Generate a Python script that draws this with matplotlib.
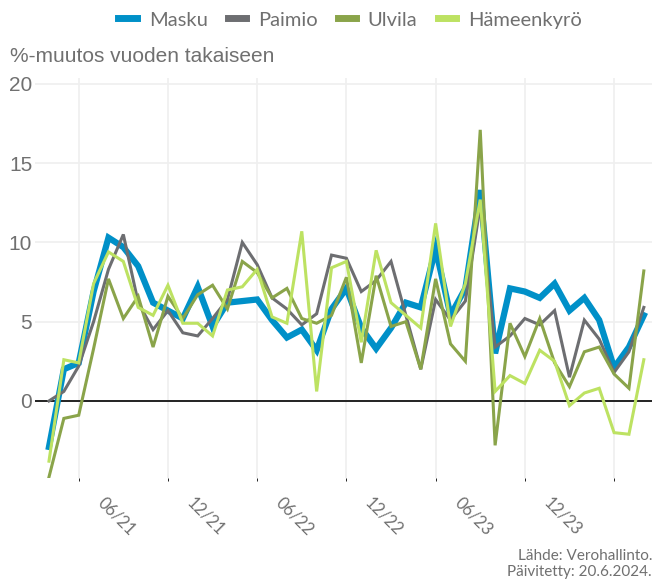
import pandas as pd
import matplotlib.pyplot as plt
from matplotlib.transforms import ScaledTranslation

# Monthly data, Jan 2021 - May 2024
months = pd.date_range('2021-01-01', periods=41, freq='MS').strftime('%m/%y').tolist()

masku = [-2.9, 2.0, 2.4, 6.9, 10.3, 9.7, 8.5, 6.2, 5.7, 5.2, 7.2, 4.7, 6.2, 6.3, 6.4,
         5.1, 4.0, 4.5, 3.2, 5.8, 7.1, 4.6, 3.3, 4.6, 6.2, 5.9, 9.6, 5.4, 7.1, 13.3,
         3.0, 7.1, 6.9, 6.5, 7.4, 5.7, 6.5, 5.1, 2.1, 3.4, 5.4]
paimio = [0.0, 0.6, 2.2, 5.0, 8.3, 10.5, 6.2, 4.5, 5.7, 4.3, 4.1, 5.2, 6.4, 10.0, 8.6,
          6.5, 5.8, 4.8, 5.5, 9.2, 9.0, 6.9, 7.6, 8.8, 5.4, 2.0, 6.4, 5.1, 6.3, 12.3,
          3.4, 4.1, 5.2, 4.8, 5.7, 1.5, 5.1, 3.9, 1.8, 3.1, 5.9]
ulvila = [-4.8, -1.1, -0.9, 3.3, 7.7, 5.2, 6.6, 3.4, 6.6, 5.2, 6.7, 7.3, 5.8, 8.8, 8.1,
          6.5, 7.1, 5.2, 4.9, 5.4, 7.8, 2.4, 7.9, 4.7, 5.0, 2.0, 7.7, 3.6, 2.5, 17.1,
          -2.8, 4.9, 2.8, 5.2, 2.4, 0.9, 3.1, 3.4, 1.7, 0.8, 8.2]
hameenkyro = [-3.8, 2.6, 2.4, 7.4, 9.4, 8.8, 5.9, 5.4, 7.3, 4.9, 4.9, 4.1, 7.0, 7.2, 8.3,
              5.3, 4.9, 10.7, 0.6, 8.4, 8.8, 3.7, 9.5, 6.2, 5.4, 4.6, 11.2, 4.7, 7.4, 12.7,
              0.6, 1.6, 1.1, 3.2, 2.5, -0.3, 0.5, 0.8, -2.0, -2.1, 2.6]

names = ['Masku', 'Paimio', 'Ulvila', 'Hämeenkyrö']
colors = ['#0090c8', '#6d6e71', '#8aa44a', '#bde262']
widths = [4.5, 2.2, 2.2, 2.2]

fig = plt.figure(figsize=(6.53, 5.79), dpi=100)
ax = fig.add_axes([35 / 653, 1 - 478 / 579, 617 / 653, 400 / 579])

x = list(range(len(months)))
for vals, name, c, w in zip([masku, paimio, ulvila, hameenkyro], names, colors, widths):
    ax.plot(x, vals, color=c, lw=w, label=name, solid_joinstyle='miter')

ax.axhline(0, color='black', lw=1.2, zorder=1)

ax.set_xlim(-0.94, 40.55)
ax.set_ylim(-4.86, 20.37)

# vertical grid every 3 months, labels every 6 months
ax.set_xticks([i for i in x if i % 3 == 2], minor=True)
ax.set_xticks([i for i in x if i % 6 == 5])
ax.set_xticklabels([months[i] for i in x if i % 6 == 5], rotation=-45, ha='center',
                   va='top', fontsize=12, color='#707070', family='Lato')
ax.grid(True, which='minor', axis='x', color='#efefef', lw=1.2)
ax.set_yticks([0, 5, 10, 15, 20])
ax.grid(True, axis='y', color='#efefef', lw=1.2)
ax.set_axisbelow(True)
ax.tick_params(length=0, pad=12)
ax.tick_params(axis='y', labelsize=15, labelcolor='#707070', pad=2)
for lab in ax.get_yticklabels():
    lab.set_family('Liberation Sans')
for lab in ax.get_xticklabels():
    lab.set_transform(lab.get_transform() + ScaledTranslation(-0.07, 0, fig.dpi_scale_trans))
for s in ax.spines.values():
    s.set_visible(False)

fig.text(10 / 653, 1 - 57 / 579, '%-muutos vuoden takaiseen', fontsize=15,
         color='#707070', family='Liberation Sans', va='center', ha='left')

leg = fig.legend(loc='center', bbox_to_anchor=(350 / 653, 1 - 20 / 579), ncol=4, frameon=False,
                 handlelength=0.9, handletextpad=0.6, columnspacing=1.0,
                 prop={'family': 'Lato', 'size': 14.5})
for line in leg.get_lines():
    line.set_linewidth(5)
for t in leg.get_texts():
    t.set_color('#707070')

fig.text(652 / 653, 1 - 556 / 579, 'Lähde: Verohallinto.', fontsize=11, color='#707070',
         family='Lato', ha='right', va='center')
fig.text(652 / 653, 1 - 572 / 579, 'Päivitetty: 20.6.2024.', fontsize=11, color='#707070',
         family='Lato', ha='right', va='center')

plt.savefig('out.png', dpi=100)
